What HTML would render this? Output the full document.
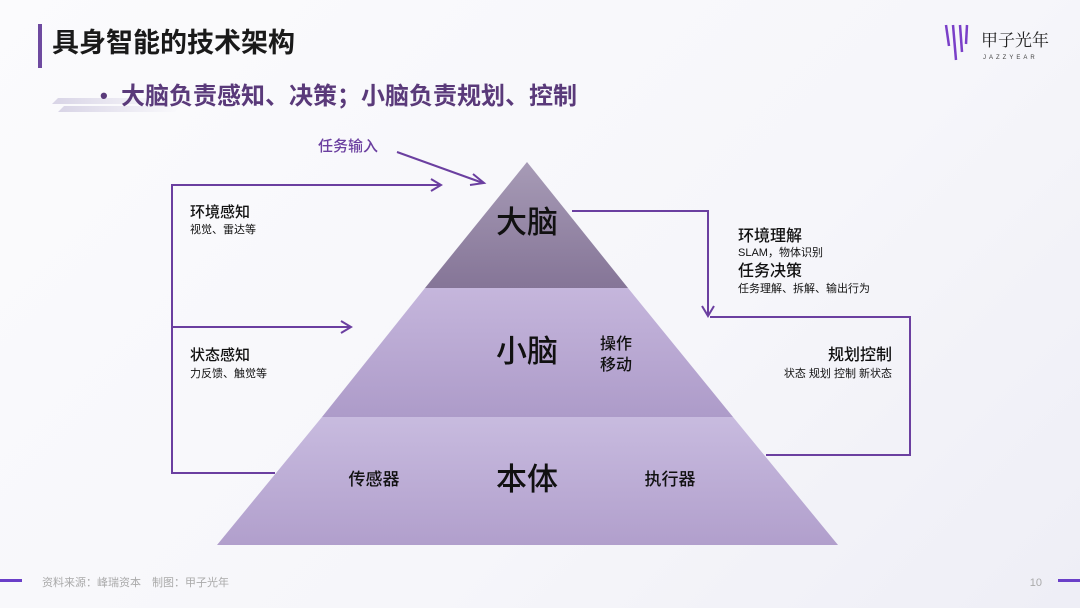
<!DOCTYPE html>
<html><head><meta charset="utf-8"><style>
body{margin:0;width:1080px;height:608px;overflow:hidden;background:linear-gradient(135deg,#fbfbfd 0%,#f6f6fa 60%,#eeeef6 100%);font-family:"Liberation Sans","Noto Sans CJK SC",sans-serif;}
svg{position:absolute;left:0;top:0}
</style></head><body>
<svg width="1080" height="608" viewBox="0 0 1080 608" font-family="Liberation Sans, Noto Sans CJK SC, sans-serif">
<defs>
<linearGradient id="t" x1="0" y1="0" x2="0" y2="1"><stop offset="0" stop-color="#a79bb6"/><stop offset="1" stop-color="#857597"/></linearGradient>
<linearGradient id="m" x1="0" y1="0" x2="0" y2="1"><stop offset="0" stop-color="#c5b6dc"/><stop offset="1" stop-color="#ad9bc9"/></linearGradient>
<linearGradient id="b" x1="0" y1="0" x2="0" y2="1"><stop offset="0" stop-color="#c8bbdf"/><stop offset="1" stop-color="#b19fcc"/></linearGradient>
<linearGradient id="bar" x1="0" y1="0" x2="1" y2="0"><stop offset="0" stop-color="#d8d4e6"/><stop offset="1" stop-color="#d8d4e6" stop-opacity="0"/></linearGradient>
</defs>
<rect x="38" y="24" width="4" height="44" fill="#6e4aa0"/>
<text x="52" y="52" font-size="27" font-weight="bold" fill="#1a1a1a">具身智能的技术架构</text>
<polygon points="58,98 170,98 165,104 52,104" fill="url(#bar)"/>
<polygon points="64,106 180,106 175,112 58,112" fill="url(#bar)"/>
<text x="100" y="103" font-size="22" font-weight="bold" fill="#5a3a7a">•</text>
<text x="121" y="104" font-size="24" font-weight="bold" fill="#5a3a7a">大脑负责感知、决策；小脑负责规划、控制</text>
<g stroke-width="2.5" stroke="#7a3fc8"><line x1="946" y1="25" x2="949" y2="46"/><line x1="953" y1="25" x2="956" y2="60"/><line x1="960" y1="25" x2="962" y2="52"/><line x1="967" y1="25" x2="966" y2="44"/></g>
<text x="981" y="46" font-size="17" fill="#222" font-family="Noto Serif CJK SC, serif">甲子光年</text>
<text x="983" y="59" font-size="6" fill="#444" letter-spacing="3">JAZZYEAR</text>
<polygon points="527,162 628,288 425,288" fill="url(#t)"/>
<polygon points="425,288 628,288 733,417 322,417" fill="url(#m)"/>
<polygon points="322,417 733,417 838,545 217,545" fill="url(#b)"/>
<g fill="#111"><text x="527" y="233" font-size="31" font-weight="500" text-anchor="middle">大脑</text>
<text x="527" y="362" font-size="31" font-weight="500" text-anchor="middle">小脑</text>
<text x="527" y="490" font-size="31" font-weight="500" text-anchor="middle">本体</text>
<text x="600" y="349" font-size="16" font-weight="500">操作</text><text x="600" y="370" font-size="16" font-weight="500">移动</text>
<text x="374" y="485" font-size="17" font-weight="500" text-anchor="middle">传感器</text>
<text x="670" y="485" font-size="17" font-weight="500" text-anchor="middle">执行器</text></g>
<g stroke="#6b3fa0" stroke-width="2" fill="none">
<polyline points="275,473 172,473 172,185 440,185"/>
<polyline points="431,179 441,185 431,191"/>
<line x1="172" y1="327" x2="350" y2="327"/>
<polyline points="341,321 351,327 341,333"/>
<line x1="397" y1="152" x2="483" y2="183"/>
<polyline points="473,174 484,183 470,185"/>
<polyline points="572,211 708,211 708,315"/>
<polyline points="702,306 708,316 714,306"/>
<polyline points="710,317 910,317 910,455 766,455"/>
</g>
<text x="318" y="151" font-size="15" font-weight="500" fill="#6b3fa0">任务输入</text>
<g fill="#111">
<text x="190" y="217" font-size="15" font-weight="500">环境感知</text><text x="190" y="233" font-size="11">视觉、雷达等</text>
<text x="190" y="360" font-size="15" font-weight="500">状态感知</text><text x="190" y="377" font-size="11">力反馈、触觉等</text>
<text x="738" y="241" font-size="16" font-weight="500">环境理解</text><text x="738" y="256" font-size="11">SLAM，物体识别</text>
<text x="738" y="276" font-size="16" font-weight="500">任务决策</text><text x="738" y="292" font-size="11">任务理解、拆解、输出行为</text>
<text x="892" y="360" font-size="16" font-weight="500" text-anchor="end">规划控制</text>
<text x="892" y="377" font-size="11" text-anchor="end">状态 规划 控制 新状态</text>
</g>
<rect x="0" y="579" width="22" height="3" fill="#6a3fc8"/>
<rect x="1058" y="579" width="22" height="3" fill="#6a3fc8"/>
<text x="42" y="586" font-size="11" fill="#aaa">资料来源：峰瑞资本　制图：甲子光年</text>
<text x="1042" y="586" font-size="11" fill="#aaa" text-anchor="end">10</text>
</svg>
</body></html>
